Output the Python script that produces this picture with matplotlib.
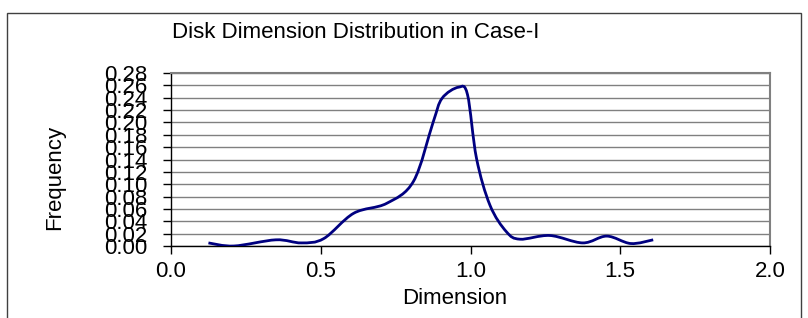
import matplotlib
matplotlib.use('Agg')
import matplotlib.pyplot as plt
from matplotlib.path import Path
from matplotlib.patches import PathPatch, Rectangle
import numpy as np

plt.rcParams['font.family'] = ['Liberation Sans', 'DejaVu Sans']

# values
dimension = [0.125, 0.21, 0.35, 0.435, 0.51, 0.61, 0.72, 0.81, 0.875, 0.905,
             0.96, 0.99, 1.02, 1.065, 1.12, 1.165, 1.265, 1.375, 1.455, 1.535, 1.61]
frequency = [0.005, 0.0, 0.01, 0.005, 0.012, 0.053, 0.069, 0.105, 0.200, 0.239,
             0.257, 0.245, 0.142, 0.066, 0.023, 0.011, 0.017, 0.005, 0.016, 0.004, 0.010]
xticks = [0.0, 0.5, 1.0, 1.5, 2.0]
yticks = np.arange(0, 0.2801, 0.02)


def smooth_path(xs, ys):
    # Catmull-Rom style cubic bezier through the points (like a "smoothed line")
    pts = np.column_stack([xs, ys])
    verts = [pts[0]]
    codes = [Path.MOVETO]
    n = len(pts)
    for i in range(n - 1):
        p0 = pts[i - 1] if i > 0 else pts[i]
        p1, p2 = pts[i], pts[i + 1]
        p3 = pts[i + 2] if i + 2 < n else pts[i + 1]
        c1 = p1 + (p2 - p0) / 6
        c2 = p2 - (p3 - p1) / 6
        verts += [c1, c2, p2]
        codes += [Path.CURVE4] * 3
    return Path(verts, codes)


fig = plt.figure(figsize=(8.08, 3.18), dpi=100)
ax = fig.add_axes([171/808, 1 - 246/318, (770 - 171)/808, (246 - 73)/318])

ax.add_patch(PathPatch(smooth_path(dimension, frequency), facecolor='none',
                       edgecolor='#000080', lw=2.0, zorder=3))

ax.set_xlim(0, 2.0)
ax.set_ylim(0, 0.28)
ax.set_xticks(xticks)
ax.set_xticklabels([f'{v:.1f}' for v in xticks], fontsize=16)
ax.set_yticks(yticks)
ax.set_yticklabels([f'{v:.2f}' for v in yticks], fontsize=16)
ax.tick_params(axis='y', direction='out', length=6, width=1, pad=11)
ax.tick_params(axis='x', direction='out', length=6, width=1, pad=5)
ax.grid(axis='y', color='#808080', lw=1)
ax.set_axisbelow(True)

for s in ['top', 'right']:
    ax.spines[s].set_color('#808080')
    ax.spines[s].set_linewidth(1.5)
for s in ['left', 'bottom']:
    ax.spines[s].set_color('black')
    ax.spines[s].set_linewidth(1)

fig.text(172/808, 1 - 33/318, 'Disk Dimension Distribution in Case-I',
         fontsize=16, ha='left', va='center')
fig.text(455/808, 1 - 298/318, 'Dimension', fontsize=16, ha='center', va='center')
fig.text(55/808, 1 - 177/318, 'Frequency', fontsize=16, ha='center', va='center',
         rotation=90)

# outer chart frame
fig.patches.append(Rectangle((7/808, -0.2), (801 - 7)/808, 1.2 - 13/318,
                             transform=fig.transFigure, fill=False,
                             edgecolor='#404040', lw=1))

plt.savefig('out.png', dpi=100)
